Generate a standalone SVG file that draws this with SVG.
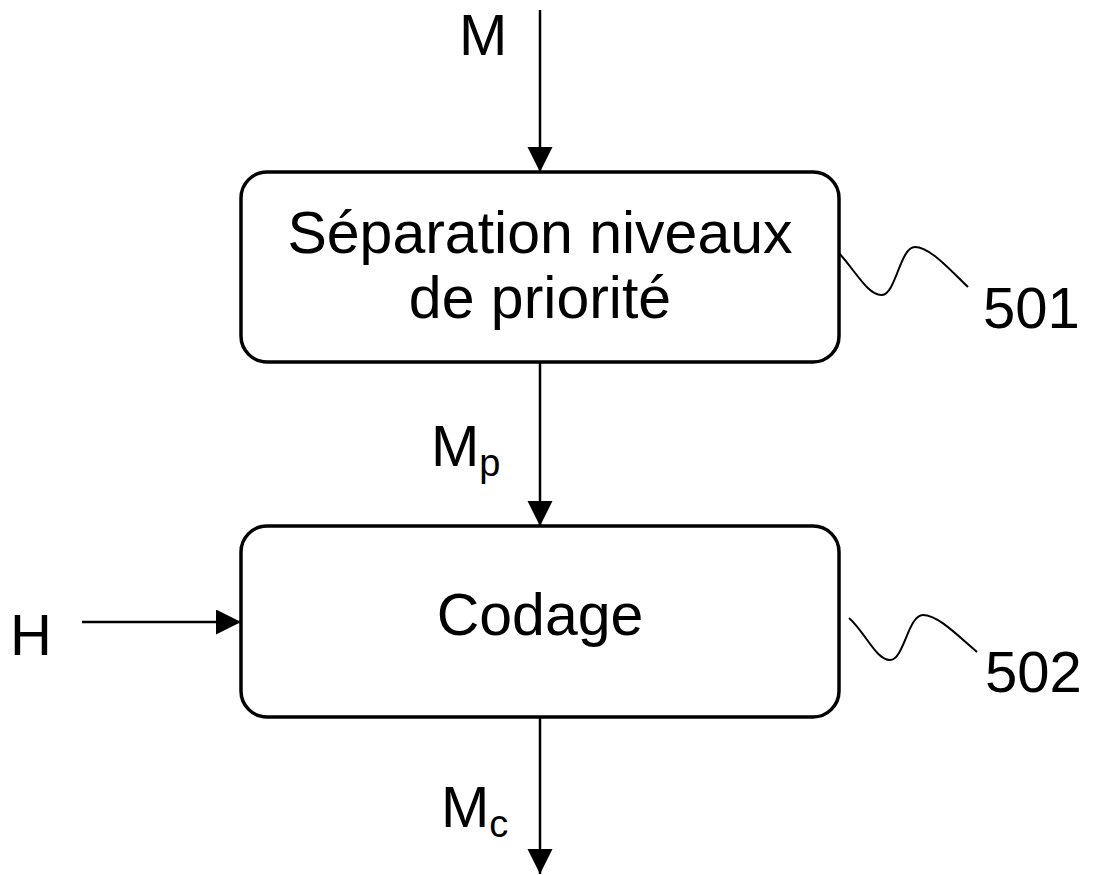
<svg xmlns="http://www.w3.org/2000/svg" width="1093" height="875" viewBox="0 0 1093 875">
<defs>
<marker id="arr" markerUnits="userSpaceOnUse" markerWidth="26" markerHeight="26" refX="25" refY="12.5" orient="auto" viewBox="0 0 26 26">
<path d="M0,0 L25,12.5 L0,25 z" fill="#000"/>
</marker>
</defs>
<style>
.box{fill:#fff;stroke:#000;stroke-width:3.5}
.t{font-family:"Liberation Sans",Arial,sans-serif;font-size:58px;fill:#000}
.big{font-size:59px}
.sub{font-size:38px}
.c{stroke:#000;stroke-width:2.5;fill:none}
.lead{stroke:#000;stroke-width:2;fill:none}
</style>
<rect width="1093" height="875" fill="#fff"/>
<g id="connectors">
<line class="c" x1="540" y1="10" x2="540" y2="172" marker-end="url(#arr)"/>
<line class="c" x1="540" y1="363" x2="540" y2="526" marker-end="url(#arr)"/>
<line class="c" x1="82" y1="622" x2="241" y2="622" marker-end="url(#arr)"/>
<line class="c" x1="540" y1="717" x2="540" y2="874" marker-end="url(#arr)"/>
<path class="lead" d="M838,252 C855,270 868,296 882,295 C896,294 900,247 915,247 C930,247 950,270 968,287"/>
<path class="lead" d="M849,618 C865,632 876,660 890,660 C904,660 908,615 923,615 C938,615 958,636 977,652"/>
</g>
<g id="node-501">
<rect class="box" x="241" y="172" width="598" height="190" rx="26" ry="26"/>
<text class="t big" x="540" y="253" text-anchor="middle">Séparation niveaux</text>
<text class="t big" x="540" y="318" text-anchor="middle">de priorité</text>
</g>
<g id="node-502">
<rect class="box" x="241" y="526" width="598" height="191" rx="26" ry="26"/>
<text class="t big" x="540" y="635" text-anchor="middle">Codage</text>
</g>
<g id="labels">
<text class="t" x="459" y="55">M</text>
<text class="t" x="431" y="466">M<tspan class="sub" dy="10">p</tspan></text>
<text class="t" x="441" y="827">M<tspan class="sub" dy="10">c</tspan></text>
<text class="t" x="10" y="655">H</text>
<text class="t" x="983" y="328">501</text>
<text class="t" x="985" y="692">502</text>
</g>
</svg>
